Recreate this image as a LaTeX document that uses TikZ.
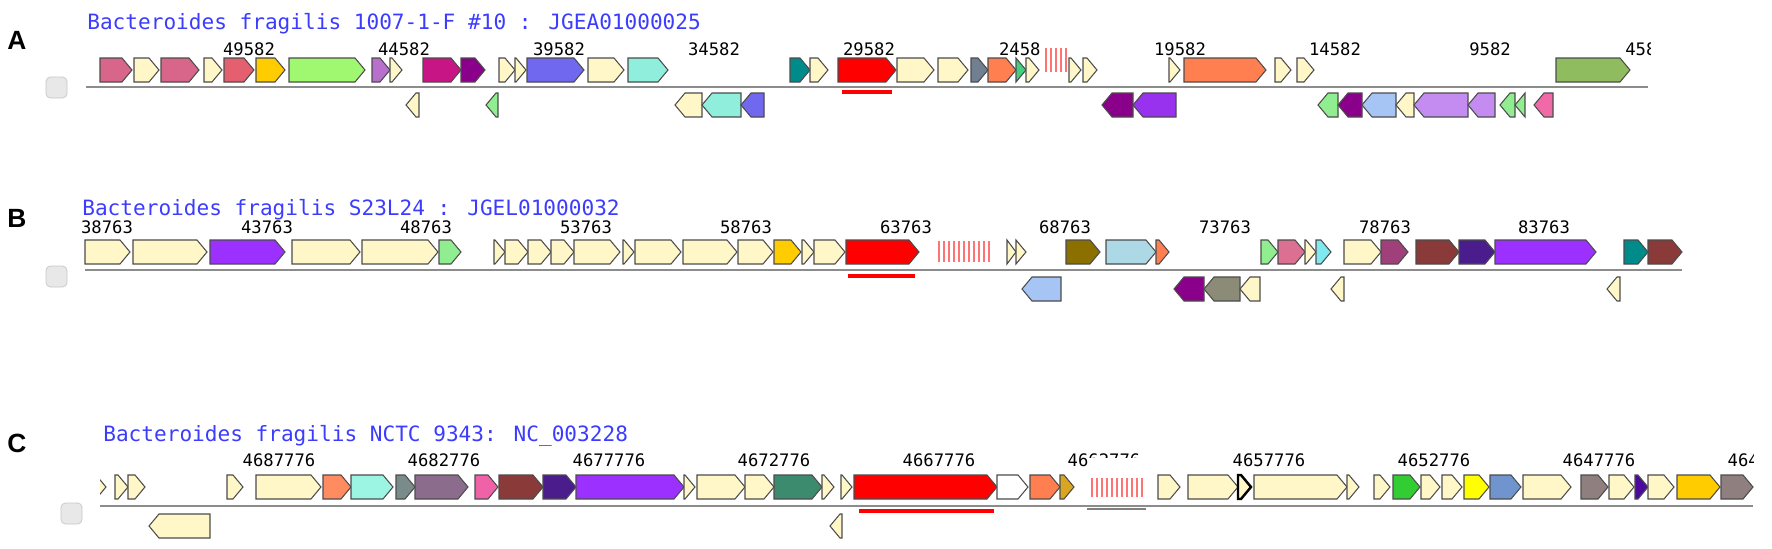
\documentclass[tikz,border=0pt]{standalone}
\usepackage{fontspec}
\setmainfont{Liberation Sans}
\newfontfamily\monofont{DejaVu Sans Mono}
% gene colours
\definecolor{cream}{HTML}{FFF7C8}
\definecolor{pinkA}{HTML}{D8668A}
\definecolor{pinkR}{HTML}{E4606E}
\definecolor{goldA}{HTML}{FFCC00}
\definecolor{lgreenA}{HTML}{A0F870}
\definecolor{orchid}{HTML}{B870CC}
\definecolor{mvred}{HTML}{C71585}
\definecolor{dmag}{HTML}{8B008B}
\definecolor{slateb}{HTML}{7068EE}
\definecolor{aqua}{HTML}{90EEDC}
\definecolor{tealg}{HTML}{008B8B}
\definecolor{slgrey}{HTML}{708090}
\definecolor{coral}{HTML}{FF7F50}
\definecolor{sgreen}{HTML}{40D080}
\definecolor{oliveg}{HTML}{90BC60}
\definecolor{lgreen}{HTML}{90EE90}
\definecolor{purpA}{HTML}{9932EE}
\definecolor{lsteel}{HTML}{A6C4F4}
\definecolor{lav}{HTML}{C48CF0}
\definecolor{hpink}{HTML}{F06AA8}
\definecolor{purpB}{HTML}{9B30FF}
\definecolor{olivebr}{HTML}{8B7000}
\definecolor{lblue}{HTML}{ADD8E6}
\definecolor{pvred}{HTML}{DB7093}
\definecolor{cyanl}{HTML}{80E8F0}
\definecolor{plum}{HTML}{A0407A}
\definecolor{brownr}{HTML}{8B3A3A}
\definecolor{indigo}{HTML}{4B1C8C}
\definecolor{greyol}{HTML}{8B8B78}
\definecolor{coralC}{HTML}{FF8C60}
\definecolor{aquaC}{HTML}{9CF5E2}
\definecolor{greyC}{HTML}{7A8B8B}
\definecolor{mauve}{HTML}{8C6C8C}
\definecolor{pinkC}{HTML}{F062A8}
\definecolor{seag}{HTML}{3D8B6E}
\definecolor{goldr}{HTML}{DAA520}
\definecolor{limeg}{HTML}{32CD32}
\definecolor{yellowg}{HTML}{FFFF00}
\definecolor{steel}{HTML}{7094CD}
\definecolor{greym}{HTML}{8F7F7F}
\definecolor{indigoD}{HTML}{4B0A9C}
\definecolor{ttlblue}{HTML}{3C3CFF}
\begin{document}
\begin{tikzpicture}[x=0.02cm, y=-0.02cm,
    gene/.style={draw=black!70, line width=0.6pt, line join=miter},
    panel/.style={font=\bfseries\fontsize{15}{15}\selectfont, inner sep=0},
    ttl/.style={font=\monofont\fontsize{12}{12}\selectfont, text=ttlblue, anchor=west, inner sep=0},
    coordlab/.style={font=\monofont\fontsize{9.8}{10}\selectfont, inner sep=0},
    seqline/.style={draw=gray!90, line width=1.4pt},
    hitbar/.style={red, line width=2.8pt},
    crispr/.style={red!55, line width=0.7pt},
    chk/.style={fill=gray!18, draw=gray!45, rounded corners=2.5pt}]
    \useasboundingbox (0,0) rectangle (1772,548);

    % ---- A
    \node[panel] (labA) at (17,40) {A};
    \node[ttl] (ttlA) at (87,24) {Bacteroides fragilis 1007-1-F \#10 : JGEA01000025};
    \filldraw[chk] (46,77) rectangle (67,98);
    \foreach \lab/\x in {49582/249, 44582/404, 39582/559, 34582/714, 29582/869, 19582/1180, 14582/1335, 9582/1490}
        \node[coordlab] (tA\x) at (\x,49) {\lab};
    \node[coordlab] (tA1025) at (1025,49) {2458\phantom{2}};
    \begin{scope}
        \clip (1600,40) rectangle (1650,60);
        \node[coordlab] (tA1646) at (1646,49) {4582};
    \end{scope}
    \draw[seqline] (86,87) -- (1648,87);
    \def\yt{70} \def\yb{105}
    \foreach \xa/\xb/\col in {100/132/pinkA, 134/159/cream, 161/199/pinkA, 204/222/cream, 224/254/pinkR,
        256/285/goldA, 289/365/lgreenA, 372/390/orchid, 390/402/cream, 423/461/mvred, 461/485/dmag,
        499/515/cream, 515/526/cream, 527/584/slateb, 588/624/cream, 628/668/aqua, 790/810/tealg,
        810/828/cream, 838/896/red, 897/934/cream, 938/968/cream, 971/988/slgrey, 988/1016/coral,
        1016/1026/sgreen, 1026/1039/cream, 1069/1081/cream, 1083/1097/cream, 1169/1180/cream,
        1184/1266/coral, 1275/1291/cream, 1297/1314/cream, 1556/1630/oliveg}{
        \pgfmathsetmacro\h{min(10,\xb-\xa)}
        \filldraw[gene, fill=\col] (\xa,\yt-12) -- ({\xb-\h},\yt-12) -- (\xb,\yt) -- ({\xb-\h},\yt+12) -- (\xa,\yt+12) -- cycle;
    }
    \foreach \xa/\xb/\col in {406/419/cream, 486/498/lgreen, 675/702/cream, 702/741/aqua, 741/764/slateb,
        1102/1133/dmag, 1133/1176/purpA, 1318/1338/lgreen, 1338/1362/dmag, 1362/1396/lsteel,
        1396/1414/cream, 1414/1468/lav, 1468/1495/lav, 1500/1515/lgreen, 1515/1525/lgreen, 1534/1553/hpink}{
        \pgfmathsetmacro\h{min(10,\xb-\xa)}
        \filldraw[gene, fill=\col] (\xb,\yb-12) -- ({\xa+\h},\yb-12) -- (\xa,\yb) -- ({\xa+\h},\yb+12) -- (\xb,\yb+12) -- cycle;
    }
    \foreach \x in {1046,1051,...,1066}
        \draw[crispr] (\x,48) -- (\x,72);
    \draw[hitbar] (842,92) -- (892,92);

    % ---- B
    \node[panel] (labB) at (17,218) {B};
    \node[ttl] (ttlB) at (82,210) {Bacteroides fragilis S23L24 : JGEL01000032};
    \filldraw[chk] (46,266) rectangle (67,287);
    \foreach \lab/\x in {38763/107, 43763/267, 48763/426, 53763/586, 58763/746, 63763/906, 68763/1065, 73763/1225, 78763/1385, 83763/1544}
        \node[coordlab] (tB\x) at (\x,227) {\lab};
    \draw[seqline] (85,270) -- (1682,270);
    \def\yt{252} \def\yb{289}
    \foreach \xa/\xb/\col in {85/130/cream, 133/207/cream, 210/285/purpB, 292/360/cream, 362/438/cream,
        439/461/lgreen, 494/505/cream, 505/528/cream, 528/551/cream, 551/574/cream, 574/620/cream,
        623/634/cream, 635/681/cream, 683/737/cream, 738/773/cream, 774/801/goldA, 802/814/cream,
        814/845/cream, 846/919/red, 1007/1016/cream, 1016/1026/cream, 1066/1100/olivebr, 1106/1156/lblue,
        1156/1169/coral, 1261/1278/lgreen, 1278/1305/pvred, 1305/1316/cream, 1316/1331/cyanl,
        1344/1381/cream, 1381/1408/plum, 1416/1459/brownr, 1459/1495/indigo, 1495/1596/purpB,
        1624/1648/tealg, 1648/1682/brownr}{
        \pgfmathsetmacro\h{min(10,\xb-\xa)}
        \filldraw[gene, fill=\col] (\xa,\yt-12) -- ({\xb-\h},\yt-12) -- (\xb,\yt) -- ({\xb-\h},\yt+12) -- (\xa,\yt+12) -- cycle;
    }
    \foreach \xa/\xb/\col in {1022/1061/lsteel, 1174/1204/dmag, 1204/1240/greyol, 1240/1260/cream,
        1331/1344/cream, 1607/1620/cream}{
        \pgfmathsetmacro\h{min(10,\xb-\xa)}
        \filldraw[gene, fill=\col] (\xb,\yb-12) -- ({\xa+\h},\yb-12) -- (\xa,\yb) -- ({\xa+\h},\yb+12) -- (\xb,\yb+12) -- cycle;
    }
    \foreach \x in {939,944,...,989}
        \draw[crispr] (\x,241) -- (\x,262);
    \draw[hitbar] (848,276) -- (915,276);

    % ---- C
    \node[panel] (labC) at (17,443) {C};
    \node[ttl] (ttlC) at (103,436) {Bacteroides fragilis NCTC 9343: NC\_003228};
    \filldraw[chk] (61,503) rectangle (82,524);
    \foreach \lab/\x in {4687776/279, 4682776/444, 4677776/609, 4672776/774, 4667776/939, 4662776/1104, 4657776/1269, 4652776/1434, 4647776/1599}
        \node[coordlab] (tC\x) at (\x,460) {\lab};
    \fill[white] (1089,458) rectangle (1146,472);
    \begin{scope}
        \clip (1700,450) rectangle (1753,470);
        \node[coordlab] (tC1764) at (1764,460) {4642776};
    \end{scope}
    \draw[seqline] (100,506) -- (1753,506);
    \draw[gray, line width=0.6pt] (1087,509) -- (1146,509);
    \def\yt{487} \def\yb{526}
    \begin{scope}
        \clip (100,470) rectangle (200,505);
        \filldraw[gene, fill=cream] (88,\yt-12) -- (96,\yt-12) -- (106,\yt) -- (96,\yt+12) -- (88,\yt+12) -- cycle;
    \end{scope}
    \foreach \xa/\xb/\col in {115/128/cream, 128/145/cream, 227/243/cream, 256/321/cream, 323/351/coralC,
        351/393/aquaC, 396/415/greyC, 415/468/mauve, 475/498/pinkC, 499/543/brownr, 543/576/indigo,
        576/684/purpB, 684/695/cream, 697/745/cream, 745/774/cream, 774/822/seag, 822/834/cream,
        841/852/cream, 854/997/red, 997/1028/white, 1030/1060/coral, 1060/1074/goldr, 1158/1180/cream,
        1188/1238/cream, 1254/1347/cream, 1347/1359/cream, 1374/1390/cream, 1393/1420/limeg,
        1421/1440/cream, 1442/1462/cream, 1464/1489/yellowg, 1490/1521/steel, 1523/1571/cream,
        1581/1608/greym, 1609/1634/cream, 1635/1648/indigoD, 1648/1674/cream, 1677/1720/goldA,
        1721/1753/greym}{
        \pgfmathsetmacro\h{min(10,\xb-\xa)}
        \filldraw[gene, fill=\col] (\xa,\yt-12) -- ({\xb-\h},\yt-12) -- (\xb,\yt) -- ({\xb-\h},\yt+12) -- (\xa,\yt+12) -- cycle;
    }
    % odd one with a heavy outline
    \filldraw[gene, fill=cream, draw=black, line width=1.4pt] (1238,\yt-12) -- (1241,\yt-12) -- (1251,\yt) -- (1241,\yt+12) -- (1238,\yt+12) -- cycle;
    \foreach \xa/\xb/\col in {149/210/cream, 830/842/cream}{
        \pgfmathsetmacro\h{min(10,\xb-\xa)}
        \filldraw[gene, fill=\col] (\xb,\yb-12) -- ({\xa+\h},\yb-12) -- (\xa,\yb) -- ({\xa+\h},\yb+12) -- (\xb,\yb+12) -- cycle;
    }
    \foreach \x in {1092,1097,...,1142}
        \draw[crispr] (\x,478) -- (\x,497);
    \draw[hitbar] (859,511) -- (994,511);
\end{tikzpicture}
\end{document}
